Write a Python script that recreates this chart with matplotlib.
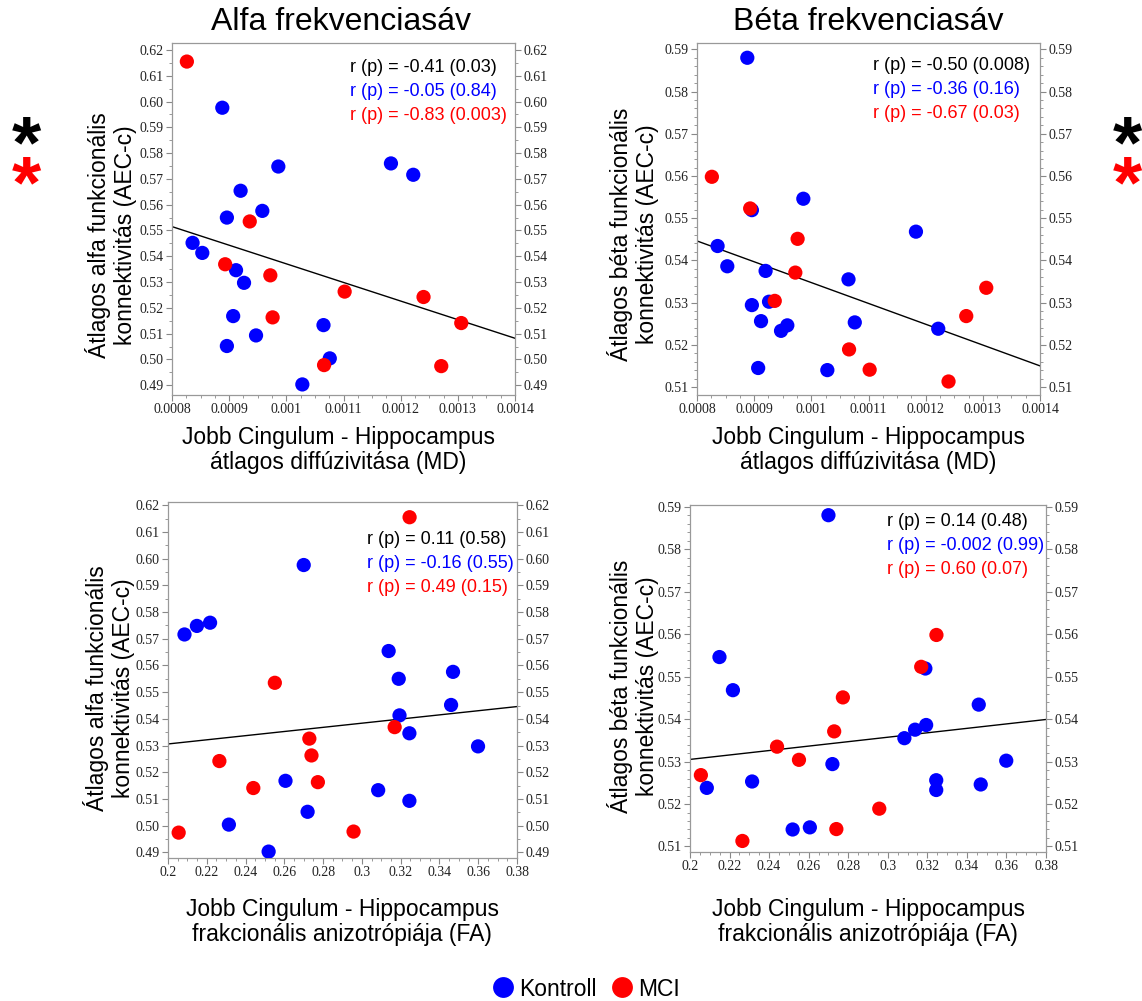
"""
Scatter plots: cingulum-hippocampus DTI metrics vs alpha / beta AEC-c connectivity
"""

import matplotlib
matplotlib.use('Agg')
import matplotlib.pyplot as plt
import numpy as np
from matplotlib.lines import Line2D
from matplotlib.ticker import MultipleLocator, AutoMinorLocator, FuncFormatter

# Kontroll group (one value per subject)
ctrl_md = [0.000888, 0.000986, 0.001183, 0.001222, 0.000920, 0.000896, 0.000958, 0.000836, 0.000853,
           0.000912, 0.000926, 0.000907, 0.001065, 0.000947, 0.000896, 0.001076, 0.001028]
ctrl_fa = [0.2700, 0.2149, 0.2217, 0.2085, 0.3138, 0.3190, 0.3470, 0.3460, 0.3194,
           0.3245, 0.3599, 0.2606, 0.3084, 0.3245, 0.2720, 0.2314, 0.2519]
ctrl_alfa = [0.5976, 0.5748, 0.5760, 0.5716, 0.5654, 0.5550, 0.5576, 0.5452, 0.5413,
             0.5346, 0.5297, 0.5168, 0.5133, 0.5093, 0.5052, 0.5004, 0.4903]
ctrl_beta = [0.5880, 0.5546, 0.5468, 0.5238, 0.5375, 0.5519, 0.5246, 0.5434, 0.5386,
             0.5256, 0.5302, 0.5145, 0.5355, 0.5233, 0.5294, 0.5253, 0.5140]

# MCI group
mci_md = [0.000826, 0.000893, 0.000976, 0.000972, 0.000936, 0.001306, 0.001271, 0.001066, 0.001102, 0.001240]
mci_fa = [0.3246, 0.3169, 0.2773, 0.2729, 0.2551, 0.2440, 0.2055, 0.2957, 0.2740, 0.2265]
mci_alfa = [0.6155, 0.5369, 0.5163, 0.5326, 0.5535, 0.5141, 0.4974, 0.4978, 0.5263, 0.5242]
mci_beta = [0.5598, 0.5523, 0.5451, 0.5371, 0.5304, 0.5335, 0.5268, 0.5189, 0.5141, 0.5113]

# pooled regression lines, value at left / right end of the x range
fit_alfa_md = [0.5515, 0.5082]
fit_beta_md = [0.5446, 0.5150]
fit_alfa_fa = [0.5306, 0.5446]
fit_beta_fa = [0.5305, 0.5399]

# correlation annotations: all, Kontroll, MCI
stats_alfa_md = ['r (p) = -0.41 (0.03)', 'r (p) = -0.05 (0.84)', 'r (p) = -0.83 (0.003)']
stats_beta_md = ['r (p) = -0.50 (0.008)', 'r (p) = -0.36 (0.16)', 'r (p) = -0.67 (0.03)']
stats_alfa_fa = ['r (p) = 0.11 (0.58)', 'r (p) = -0.16 (0.55)', 'r (p) = 0.49 (0.15)']
stats_beta_fa = ['r (p) = 0.14 (0.48)', 'r (p) = -0.002 (0.99)', 'r (p) = 0.60 (0.07)']

titles = ['Alfa frekvenciasáv', 'Béta frekvenciasáv']
ylabel_alfa = 'Átlagos alfa funkcionális\nkonnektivitás (AEC-c)'
ylabel_beta = 'Átlagos béta funkcionális\nkonnektivitás (AEC-c)'
xlabel_md = 'Jobb Cingulum - Hippocampus\nátlagos diffúzivitása (MD)'
xlabel_fa = 'Jobb Cingulum - Hippocampus\nfrakcionális anizotrópiája (FA)'
legend_labels = ['Kontroll', 'MCI']

BLUE = '#0000ff'
RED = '#ff0000'
SANS = 'Liberation Sans'
SERIF = 'Liberation Serif'
W, H = 1142, 1001


def fx(px):
    return px / W


def fy(py):
    return 1 - py / H


def draw_panel(fig, ax, x_c, y_c, x_m, y_m, fit, xlim, ylim, xstep, yminor, stats, text_xy):
    ax.plot(xlim, fit, color='black', lw=1.0, zorder=2)
    ax.scatter(x_c, y_c, s=105, color=BLUE, edgecolors='none', zorder=3)
    ax.scatter(x_m, y_m, s=105, color=RED, edgecolors='none', zorder=4)
    ax.set_xlim(xlim)
    ax.set_ylim(ylim)

    ax.xaxis.set_major_locator(MultipleLocator(xstep))
    ax.xaxis.set_minor_locator(AutoMinorLocator(4))
    ax.yaxis.set_major_locator(MultipleLocator(0.01))
    ax.yaxis.set_minor_locator(AutoMinorLocator(yminor))
    ax.xaxis.set_major_formatter(FuncFormatter(lambda v, p: f'{v:.5g}'))
    ax.yaxis.set_major_formatter(FuncFormatter(lambda v, p: f'{v:.2f}'))

    ax.tick_params(which='both', direction='out', color='#888888', left=True, right=True,
                   labelleft=True, labelright=True, top=False)
    ax.tick_params(which='major', length=4, width=0.8, labelsize=10, labelcolor='#222222', pad=2)
    ax.tick_params(which='minor', length=2, width=0.6)
    for lab in ax.get_xticklabels() + ax.get_yticklabels():
        lab.set_fontfamily(SERIF)
    for sp in ax.spines.values():
        sp.set_color('#999999')
        sp.set_linewidth(0.9)

    tx, ty = text_xy
    for i, (txt, col) in enumerate(zip(stats, ['black', BLUE, RED])):
        fig.text(fx(tx), fy(ty + i * 24), txt, color=col, fontsize=13, family=SANS,
                 va='center', ha='left')


def main():
    fig = plt.figure(figsize=(W / 100, H / 100), dpi=100)
    plt.rcParams['font.family'] = SANS

    ax1 = fig.add_axes([fx(172), fy(395), fx(343), 352 / H])
    ax2 = fig.add_axes([fx(697), fy(395), fx(343), 352 / H])
    ax3 = fig.add_axes([fx(168), fy(858), fx(349), 356 / H])
    ax4 = fig.add_axes([fx(690), fy(852), fx(356), 347 / H])

    draw_panel(fig, ax1, ctrl_md, ctrl_alfa, mci_md, mci_alfa, fit_alfa_md,
               (0.0008, 0.0014), (0.4862, 0.6227), 0.0001, 2, stats_alfa_md, (350, 68))
    draw_panel(fig, ax2, ctrl_md, ctrl_beta, mci_md, mci_beta, fit_beta_md,
               (0.0008, 0.0014), (0.5081, 0.5915), 0.0001, 5, stats_beta_md, (873, 65))
    draw_panel(fig, ax3, ctrl_fa, ctrl_alfa, mci_fa, mci_alfa, fit_alfa_fa,
               (0.2, 0.38), (0.4879, 0.6212), 0.02, 2, stats_alfa_fa, (367, 539))
    draw_panel(fig, ax4, ctrl_fa, ctrl_beta, mci_fa, mci_beta, fit_beta_fa,
               (0.2, 0.38), (0.5087, 0.5904), 0.02, 5, stats_beta_fa, (887, 522))

    # column titles
    fig.text(fx(341), fy(22), titles[0], fontsize=23, ha='center', va='center')
    fig.text(fx(868), fy(22), titles[1], fontsize=23, ha='center', va='center')

    # axis labels
    lab_kw = dict(fontsize=16.5, ha='center', va='center', linespacing=1.15)
    fig.text(fx(111), fy(235), ylabel_alfa, rotation=90, **lab_kw)
    fig.text(fx(633), fy(234), ylabel_beta, rotation=90, **lab_kw)
    fig.text(fx(109), fy(688), ylabel_alfa, rotation=90, **lab_kw)
    fig.text(fx(633), fy(686), ylabel_beta, rotation=90, **lab_kw)
    fig.text(fx(338), fy(450), xlabel_md, **lab_kw)
    fig.text(fx(868), fy(450), xlabel_md, **lab_kw)
    fig.text(fx(342), fy(922), xlabel_fa, **lab_kw)
    fig.text(fx(868), fy(922), xlabel_fa, **lab_kw)

    # significance stars (all subjects / MCI)
    for xp in (26, 1127):
        fig.text(fx(xp), fy(148), '*', fontsize=54, fontweight='bold', color='black',
                 ha='center', va='center')
        fig.text(fx(xp), fy(188), '*', fontsize=54, fontweight='bold', color=RED,
                 ha='center', va='center')

    handles = [Line2D([], [], ls='none', marker='o', ms=15, color=c, mec='none') for c in (BLUE, RED)]
    fig.legend(handles, legend_labels, loc='center', bbox_to_anchor=(fx(586), fy(989)),
               ncol=2, frameon=False, fontsize=16.5, handletextpad=0.2, columnspacing=0.6,
               handlelength=1.0, borderaxespad=0)

    fig.savefig('out.png', dpi=100)


if __name__ == '__main__':
    main()
